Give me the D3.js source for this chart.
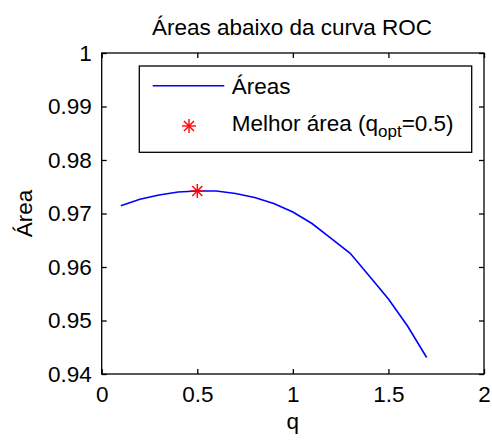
<!DOCTYPE html>
<html><head><meta charset="utf-8">
<script src="https://cdn.jsdelivr.net/npm/d3@7"></script>
<style>body{margin:0;background:#fff}svg{display:block}text{font-family:"Liberation Sans",Arial,sans-serif;fill:#000}</style>
</head><body>
<script>
const qValues = [0.1,0.2,0.3,0.4,0.5,0.6,0.7,0.8,0.9,1.0,1.1,1.2,1.3,1.4,1.5,1.6,1.7];
const areaValues = [0.97146,0.97265,0.97346,0.97402,0.97421,0.97421,0.97374,0.97299,0.97187,0.97028,0.96813,0.96533,0.96256,0.95832,0.95402,0.94897,0.94308];
const bestPoint = [{q:0.5, area:0.97421}];
const xTicks = [0,0.5,1,1.5,2];
const xTickLabels = ["0","0.5","1","1.5","2"];
const yTicks = [0.94,0.95,0.96,0.97,0.98,0.99,1];
const yTickLabels = ["0.94","0.95","0.96","0.97","0.98","0.99","1"];
const titleText = "Áreas abaixo da curva ROC";
const xLabel = "q", yLabel = "Área";
const legendLine = "Áreas", legendStarMain = "Melhor área (q", legendStarSub = "opt", legendStarEnd = "=0.5)";

const W=492,H=440, L=101.7, R=484, T=53, B=374;
const FS=22.5;
const svg=d3.select("body").append("svg").attr("width",W).attr("height",H);
const x=d3.scaleLinear().domain([0,2]).range([L,R]);
const y=d3.scaleLinear().domain([0.94,1]).range([B,T]);

// frame
svg.append("rect").attr("x",L).attr("y",T).attr("width",R-L).attr("height",B-T)
  .attr("fill","none").attr("stroke","#000").attr("stroke-width",1.3);

function styleAxis(g){g.select(".domain").remove();g.selectAll("line").attr("stroke","#000").attr("stroke-width",1.3);
  g.selectAll("text").style("font-size",FS+"px").style("font-family",'"Liberation Sans",Arial,sans-serif').attr("fill","#000");}

svg.append("g").attr("transform",`translate(0,${B})`)
  .call(d3.axisBottom(x).tickValues(xTicks).tickFormat((d,i)=>xTickLabels[i]).tickSizeInner(-5).tickSizeOuter(0).tickPadding(12)).call(styleAxis);
svg.append("g").attr("transform",`translate(0,${T})`)
  .call(d3.axisTop(x).tickValues(xTicks).tickFormat("").tickSizeInner(-5).tickSizeOuter(0)).call(styleAxis);
svg.append("g").attr("transform",`translate(${L},0)`)
  .call(d3.axisLeft(y).tickValues(yTicks).tickFormat((d,i)=>yTickLabels[i]).tickSizeInner(-5).tickSizeOuter(0).tickPadding(10)).call(styleAxis);
svg.append("g").attr("transform",`translate(${R},0)`)
  .call(d3.axisRight(y).tickValues(yTicks).tickFormat("").tickSizeInner(-5).tickSizeOuter(0)).call(styleAxis);

// curve
const data=qValues.map((q,i)=>({q,area:areaValues[i]}));
svg.append("path").datum(data).attr("fill","none").attr("stroke","#0000ff").attr("stroke-width",1.6)
  .attr("d",d3.line().x(d=>x(d.q)).y(d=>y(d.area)));

function star(g,cx,cy,r){
  const s=r*0.72;
  const segs=[[0,-r,0,r],[-r,0,r,0],[-s,-s,s,s],[-s,s,s,-s]];
  g.selectAll(null).data(segs).enter().append("line")
    .attr("x1",d=>cx+d[0]).attr("y1",d=>cy+d[1]).attr("x2",d=>cx+d[2]).attr("y2",d=>cy+d[3])
    .attr("stroke","#ff0000").attr("stroke-width",1.4);
}
bestPoint.forEach(p=>star(svg.append("g"),x(p.q),y(p.area),7));

// title & labels
svg.append("text").attr("x",292).attr("y",35).attr("text-anchor","middle").style("font-size",FS+"px").text(titleText);
svg.append("text").attr("x",(L+R)/2).attr("y",429).attr("text-anchor","middle").style("font-size",FS+"px").text(xLabel);
svg.append("text").attr("transform",`translate(32,${(T+B)/2}) rotate(-90)`).attr("text-anchor","middle").style("font-size",FS+"px").text(yLabel);

// legend
const lg=svg.append("g");
lg.append("rect").attr("x",139.3).attr("y",66).attr("width",332.4).attr("height",86.3)
  .attr("fill","#fff").attr("stroke","#000").attr("stroke-width",1.3);
lg.append("line").attr("x1",152.7).attr("x2",224.3).attr("y1",85.7).attr("y2",85.7).attr("stroke","#0000ff").attr("stroke-width",1.6);
lg.append("text").attr("x",231.7).attr("y",94).style("font-size",FS+"px").text(legendLine);
star(lg,189,126,7);
const t2=lg.append("text").attr("x",231.7).attr("y",131).style("font-size",FS+"px");
t2.append("tspan").text(legendStarMain);
t2.append("tspan").attr("dy",6).style("font-size","17px").text(legendStarSub);
t2.append("tspan").attr("dy",-6).text(legendStarEnd);
</script>
</body></html>
